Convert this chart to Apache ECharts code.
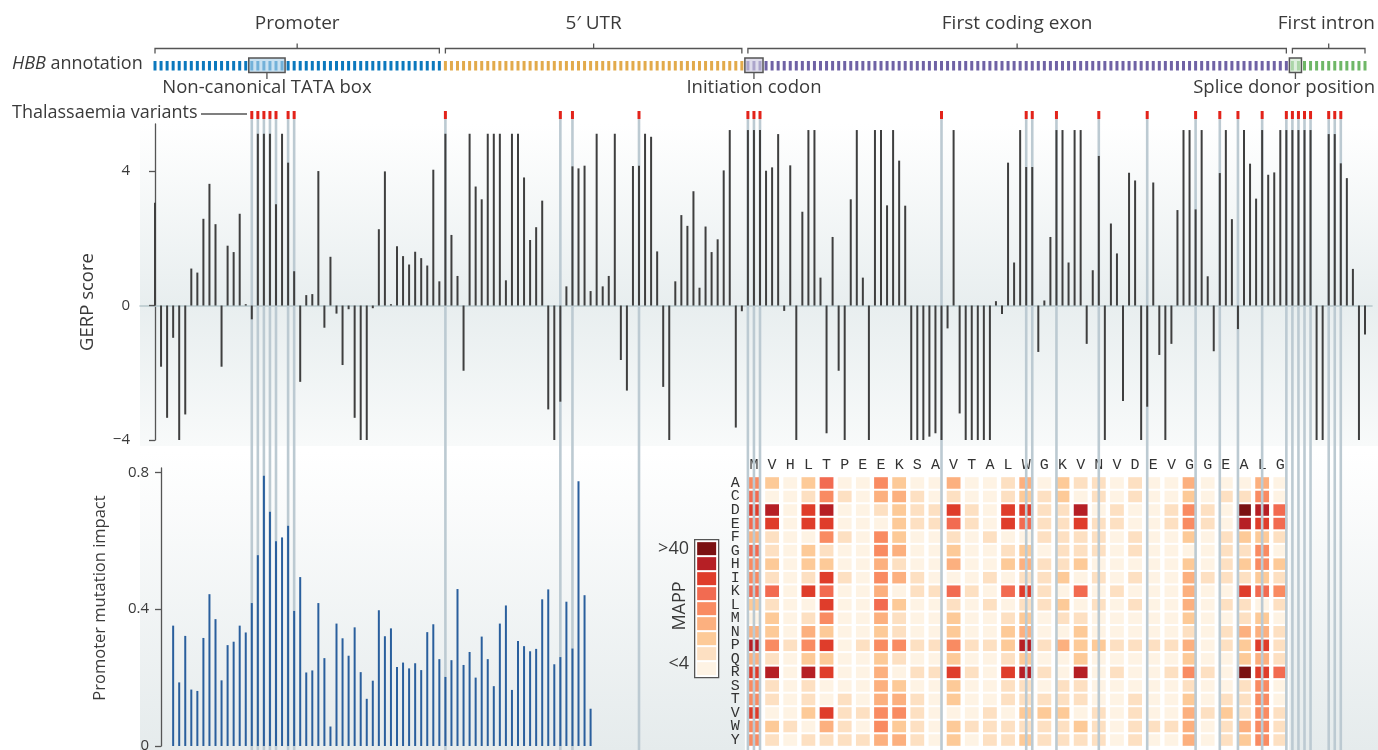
<!DOCTYPE html>
<html><head><meta charset="utf-8">
<script src="https://cdn.jsdelivr.net/npm/echarts@6/dist/echarts.min.js"></script>
<style>html,body{margin:0;padding:0;background:#fff}#c{width:1378px;height:750px}</style>
</head><body><div id="c"></div>
<script>
// ---------------- DATA ----------------
const regions = [
  {name: 'Promoter', start: 0, end: 47},
  {name: '5\u2032 UTR', start: 48, end: 97},
  {name: 'First coding exon', start: 98, end: 187},
  {name: 'First intron', start: 188, end: 200}
];
const features = [
  {name: 'Non-canonical TATA box', start: 16, end: 21},
  {name: 'Initiation codon', start: 98, end: 100},
  {name: 'Splice donor position', start: 188, end: 189}
];
const variantPositions = [16,17,18,19,20,22,23,48,67,69,80,98,99,100,130,144,145,149,156,164,172,176,179,183,187,188,189,190,191,194,195,196];
const gerpScores = [
  3.06,-1.82,-3.34,-0.96,-4.0,-3.24,1.10,0.98,2.58,3.62,
  2.42,-1.82,1.78,1.59,2.73,0.04,-0.41,5.11,5.11,5.11,
  3.01,5.11,4.25,1.02,-2.27,0.31,0.34,4.0,-0.66,1.45,
  -0.24,-1.77,-0.11,-3.34,-4.0,-4.0,-0.08,2.27,3.99,0.04,
  1.76,1.47,1.22,1.60,1.41,1.19,4.04,0.72,5.11,2.10,
  0.88,-1.94,5.11,3.54,3.16,5.11,5.11,5.11,0.75,5.11,
  5.11,3.81,1.95,2.33,3.12,-3.09,-4.0,-2.86,0.57,4.14,
  4.08,4.16,0.43,5.11,0.57,0.88,5.11,-1.62,-2.53,4.15,
  4.16,5.11,5.02,1.61,-2.42,-4.0,0.72,2.69,2.37,3.40,
  0.53,2.35,1.59,1.97,4.02,5.22,-3.63,-0.17,5.22,5.22,
  5.22,4.01,4.11,5.10,-0.16,4.17,-4.0,2.79,5.22,5.22,
  0.83,-3.80,2.04,-1.94,-4.0,3.16,5.22,0.83,-4.0,5.22,
  5.22,2.98,5.22,4.31,2.97,-4.0,-4.0,-4.0,-3.90,-3.80,
  -4.0,-0.68,5.22,-3.21,-4.0,-4.0,-4.0,-4.0,-4.0,0.13,
  -0.25,4.25,1.28,5.22,4.12,4.12,-1.38,0.15,2.04,5.22,
  5.22,1.28,5.22,5.22,-1.14,1.05,4.45,-4.0,2.44,1.55,
  -2.84,3.95,3.72,-4.0,-3.01,3.66,-1.47,-4.0,-1.14,2.84,
  5.22,5.22,2.86,5.22,0.87,-1.36,3.94,5.22,2.57,-0.70,
  5.22,4.22,3.18,5.22,3.89,3.96,5.22,5.22,5.22,5.22,
  5.22,5.22,-4.0,-4.0,5.10,5.10,4.23,3.79,1.09,-4.0,
  -0.86
];
const impactStart = 3;
const promoterImpact = [
  0.352,0.186,0.322,0.165,0.161,0.316,0.444,0.371,0.192,0.295,
  0.305,0.352,0.332,0.418,0.558,0.790,0.685,0.599,0.610,0.644,
  0.395,0.494,0.215,0.221,0.418,0.257,0.057,0.358,0.315,0.264,
  0.347,0.216,0.138,0.191,0.397,0.321,0.344,0.231,0.244,0.227,
  0.242,0.222,0.333,0.356,0.254,0.202,0.251,0.459,0.237,0.275,
  0.200,0.320,0.254,0.175,0.358,0.411,0.164,0.307,0.292,0.277,
  0.284,0.429,0.458,0.239,0.260,0.422,0.285,0.774,0.441,0.109
];
const aminoAcids = ['M','V','H','L','T','P','E','E','K','S','A','V','T','A','L','W','G','K','V','N','V','D','E','V','G','G','E','A','L','G'];
const residues = ['A','C','D','E','F','G','H','I','K','L','M','N','P','Q','R','S','T','V','W','Y'];
// MAPP level (1 = "<4" ... 9 = ">40"), one row per codon, in residue order
const mappLevels = [
  [5,6,7,6,4,6,5,5,6,3,1,4,8,4,7,5,5,7,5,5],
  [3,1,8,7,2,2,3,2,6,2,3,3,5,2,8,2,2,1,3,2],
  [1,1,1,1,1,1,1,1,1,1,1,1,2,1,1,1,1,1,2,1],
  [3,2,7,7,1,3,3,2,7,1,2,4,5,3,8,2,2,3,1,2],
  [6,5,8,7,5,2,3,7,6,7,5,3,7,3,7,1,1,7,4,2],
  [1,2,1,1,2,1,1,2,1,1,1,1,1,1,1,1,2,2,2,2],
  [1,1,1,1,1,1,1,1,1,1,1,1,2,1,1,1,1,2,1,2],
  [5,4,2,1,5,5,4,5,4,6,4,3,5,3,4,4,4,5,5,4],
  [3,4,3,3,3,4,2,4,1,3,2,2,5,2,1,3,4,5,3,4],
  [1,2,2,2,1,1,1,2,2,1,1,1,2,1,2,1,2,2,2,2],
  [1,1,2,2,1,1,1,1,2,1,1,1,2,1,2,1,1,1,1,1],
  [4,2,7,6,2,3,4,1,6,2,3,3,5,3,7,3,3,1,3,3],
  [1,1,2,2,1,1,1,1,2,1,1,1,2,1,2,1,1,1,2,1],
  [1,1,1,1,2,1,1,2,1,2,1,1,2,1,1,1,1,2,2,2],
  [2,2,7,7,1,2,3,1,6,1,2,3,3,2,7,2,2,1,2,2],
  [4,3,7,6,1,3,4,2,7,2,3,4,8,3,8,2,2,3,2,3],
  [1,2,2,2,2,1,2,2,2,2,1,1,2,1,2,1,2,3,2,2],
  [3,3,2,2,2,2,2,3,1,3,2,1,4,1,1,2,2,3,2,2],
  [2,1,8,7,2,2,3,1,6,1,2,3,3,3,8,2,2,1,3,2],
  [2,2,1,2,2,2,1,2,1,2,1,1,3,1,1,1,1,2,2,2],
  [1,1,2,2,1,1,1,1,2,1,1,1,2,1,2,1,1,1,1,1],
  [2,2,1,1,2,2,1,2,1,2,1,1,2,1,1,1,2,2,2,2],
  [1,1,1,1,1,1,1,1,1,1,1,1,2,1,1,1,1,1,2,1],
  [1,1,2,2,1,1,1,1,1,1,1,1,2,1,2,1,1,1,2,1],
  [4,3,5,5,3,1,3,4,4,4,3,2,4,3,5,2,3,4,4,4],
  [1,1,2,2,1,1,1,2,1,1,1,1,1,1,2,1,1,2,1,1],
  [1,2,1,1,2,2,2,2,1,2,1,2,2,1,1,1,2,3,2,2],
  [1,2,9,8,3,2,3,2,7,2,2,4,3,3,9,2,2,2,4,3],
  [4,5,8,7,3,5,5,3,6,1,3,4,7,4,7,5,5,5,5,5],
  [1,1,6,6,2,1,3,2,5,2,1,2,2,2,6,1,1,2,2,2]
];
const mappLevelValues = [1,2,3,4,5,6,7,8,9];
const mappEndLabels = ['>40', '<4'];
const gerpTicks = [-4, 0, 4];
const impactTicks = [0, 0.4, 0.8];

// ---------------- STYLE / LAYOUT ----------------
const W = 1378, H = 750;
const X0 = 155, DX = 6.05;          // pixel of position 0, pixels per nucleotide
const REGION_COLORS = ['#0b78bd', '#e2aa4b', '#6f62a5', '#6fb767'];
const MAPP_COLORS = ['#fef3e4','#fde0c2','#fdca98','#fcb07f','#f98b62','#f26b51','#df3d2b','#b61f25','#7b1112'];
const FONT = '"Open Sans", "Noto Sans", sans-serif';
const MONO = '"Liberation Mono", "DejaVu Sans Mono", monospace';
const TXT = '#3a3a3a';
const AX = '#555';
const SECTION_FS = 19, FEATURE_FS = 18.5, SIDE_FS = 18;

const measurer = document.createElement('canvas').getContext('2d');
function textWidth(t, size) { measurer.font = size + 'px ' + FONT; return measurer.measureText(t).width; }
function xRange(left, width) { return {min: (left - X0) / DX, max: (left + width - X0) / DX}; }
function regionIndexOf(p) { return regions.findIndex(r => p >= r.start && p <= r.end); }

const gridOverlay = {left: 0, top: 0, width: W, height: H};
const gridGerp = {left: 140, top: 124, width: 1232, height: 316};
const gridImpact = {left: 161, top: 468, width: 1211, height: 278};
const codonStart = regions[2].start;
const gridHeat = {left: X0 + (codonStart - 0.5) * DX, top: 476.2, width: aminoAcids.length * 3 * DX, height: residues.length * 13.53};

const heatData = [];
mappLevels.forEach((col, j) => col.forEach((lv, k) => heatData.push([j, k, lv])));

const fmtSigned = v => (v < 0 ? '\u2212' + Math.abs(v) : String(v));

const option = {
  animation: false,
  grid: [gridOverlay, gridGerp, gridImpact, gridHeat].map(g => Object.assign({outerBoundsMode: 'none', containLabel: false}, g)),
  xAxis: [
    Object.assign({type: 'value', gridIndex: 0, show: false}, xRange(gridOverlay.left, gridOverlay.width)),
    Object.assign({type: 'value', gridIndex: 1, axisLine: {show: true, onZero: true, lineStyle: {color: '#b7c7cc', width: 1.6}},
      axisTick: {show: false}, axisLabel: {show: false}, splitLine: {show: false}}, xRange(gridGerp.left, gridGerp.width)),
    Object.assign({type: 'value', gridIndex: 2, show: false}, xRange(gridImpact.left, gridImpact.width)),
    {type: 'category', gridIndex: 3, data: aminoAcids, position: 'top', axisLine: {show: false}, axisTick: {show: false},
      axisLabel: {interval: 0, fontFamily: MONO, fontSize: 15, color: '#333', margin: 4}, splitLine: {show: false}}
  ],
  yAxis: [
    {type: 'value', gridIndex: 0, min: 0, max: H, inverse: true, show: false},
    {type: 'value', gridIndex: 1, min: -4, max: 5.4,
      axisLine: {show: true, lineStyle: {color: AX, width: 1.3}},
      axisTick: {show: true, length: 6, customValues: gerpTicks, lineStyle: {color: AX, width: 1.3}},
      axisLabel: {customValues: gerpTicks, formatter: fmtSigned, fontFamily: FONT, fontSize: 15, color: TXT, margin: 10},
      splitLine: {show: false},
      name: 'GERP score', nameLocation: 'middle', nameGap: 43, nameRotate: 90,
      nameTextStyle: {fontFamily: FONT, fontSize: 18.5, color: TXT, padding: [0, 40, 0, 0]}},
    {type: 'value', gridIndex: 2, min: 0, max: 0.813,
      axisLine: {show: true, lineStyle: {color: AX, width: 1.3}},
      axisTick: {show: true, length: 6, customValues: impactTicks, lineStyle: {color: AX, width: 1.3}},
      axisLabel: {customValues: impactTicks, formatter: v => String(v), fontFamily: FONT, fontSize: 15, color: TXT, margin: 12},
      splitLine: {show: false},
      name: 'Promoter mutation impact', nameLocation: 'middle', nameGap: 52, nameRotate: 90,
      nameTextStyle: {fontFamily: FONT, fontSize: 16.5, color: TXT, padding: [0, 0, 0, 18]}},
    {type: 'category', gridIndex: 3, data: residues, inverse: true, axisLine: {show: false}, axisTick: {show: false},
      axisLabel: {interval: 0, fontFamily: MONO, fontSize: 15, color: '#333', margin: 5}, splitLine: {show: false}}
  ],
  visualMap: {
    type: 'piecewise', seriesIndex: 5, dimension: 2,
    pieces: mappLevelValues.map((v, i) => ({value: v, color: MAPP_COLORS[i]})),
    orient: 'vertical', left: 694, top: 539, itemWidth: 19, itemHeight: 13, itemGap: 2, itemSymbol: 'rect',
    showLabel: false, selectedMode: false, hoverLink: false, padding: 2.5,
    borderColor: AX, borderWidth: 1.3, backgroundColor: '#fff'
  },
  graphic: [
    {type: 'rect', z: -10, shape: {x: 140, y: 124, width: W - 140, height: 322},
      style: {fill: new echarts.graphic.LinearGradient(0, 0, 0, 1, [
        {offset: 0, color: '#ffffff'}, {offset: 0.56, color: '#e8eeef'}, {offset: 1, color: '#f8fafa'}])}},
    {type: 'rect', z: -10, shape: {x: 140, y: 452, width: W - 140, height: H - 452},
      style: {fill: new echarts.graphic.LinearGradient(0, 0, 0, 1, [
        {offset: 0, color: '#ffffff'}, {offset: 1, color: '#e5ebec'}])}},
    {type: 'rect', z: -9, shape: {x: gridHeat.left, y: 452, width: gridHeat.width, height: H - 452}, style: {fill: '#ffffff'}},
    {type: 'text', z: 10, x: 12, y: 64, style: {text: '{i|HBB} annotation', fill: TXT, font: SIDE_FS + 'px ' + FONT,
      verticalAlign: 'middle', textVerticalAlign: 'middle', rich: {i: {fontStyle: 'italic', fontSize: SIDE_FS, fontFamily: FONT, fill: TXT}}}},
    {type: 'text', z: 10, x: 12, y: 113, style: {text: 'Thalassaemia variants', fill: TXT, font: SIDE_FS + 'px ' + FONT,
      verticalAlign: 'middle', textVerticalAlign: 'middle'}},
    {type: 'line', z: 10, shape: {x1: 201, y1: 114, x2: 247, y2: 114}, style: {stroke: AX, lineWidth: 1.3}},
    {type: 'text', z: 10, x: 680, y: 606, rotation: Math.PI / 2, style: {text: 'MAPP', fill: TXT, font: '18px ' + FONT,
      align: 'center', textAlign: 'center', verticalAlign: 'middle', textVerticalAlign: 'middle'}},
    {type: 'text', z: 10, x: 689, y: 549, style: {text: mappEndLabels[0], fill: TXT, font: '18px ' + FONT,
      align: 'right', textAlign: 'right', verticalAlign: 'middle', textVerticalAlign: 'middle'}},
    {type: 'text', z: 10, x: 689, y: 664, style: {text: mappEndLabels[1], fill: TXT, font: '18px ' + FONT,
      align: 'right', textAlign: 'right', verticalAlign: 'middle', textVerticalAlign: 'middle'}}
  ],
  series: [
    // 0: region brackets, labels, annotation dashes
    {type: 'custom', xAxisIndex: 0, yAxisIndex: 0, z: 5, silent: true,
      data: regions.map(r => [r.start, r.end]),
      renderItem(params, api) {
        const ri = params.dataIndex, r = regions[ri];
        const xa = api.coord([r.start, 0])[0], xb = api.coord([r.end, 0])[0], xm = (xa + xb) / 2;
        const yb = 48.5;
        const tw = textWidth(r.name, SECTION_FS);
        const lx = Math.min(xm, W - 3 - tw / 2);
        const ch = [
          {type: 'polyline', shape: {points: [[xa, yb + 5], [xa, yb], [xb, yb], [xb, yb + 5]]}, style: {stroke: AX, lineWidth: 1.3, fill: null}},
          {type: 'line', shape: {x1: xm, y1: yb, x2: xm, y2: yb - 5}, style: {stroke: AX, lineWidth: 1.3}},
          {type: 'text', style: {text: r.name, x: lx, y: 24, fill: TXT, fontSize: SECTION_FS, fontFamily: FONT,
            align: 'center', textAlign: 'center', verticalAlign: 'middle', textVerticalAlign: 'middle'}}
        ];
        for (let p = r.start; p <= r.end; p++) {
          const x = api.coord([p, 0])[0];
          ch.push({type: 'rect', shape: {x: x - 1.5, y: 61, width: 3, height: 9.5}, style: {fill: REGION_COLORS[ri]}});
        }
        return {type: 'group', children: ch};
      }},
    // 1: feature boxes
    {type: 'custom', xAxisIndex: 0, yAxisIndex: 0, z: 6, silent: true,
      data: features.map(f => [f.start, f.end]),
      renderItem(params, api) {
        const f = features[params.dataIndex];
        const xa = api.coord([f.start - 0.5, 0])[0], xb = api.coord([f.end + 0.5, 0])[0], cx = (xa + xb) / 2;
        const col = REGION_COLORS[regionIndexOf(f.start)];
        const tw = textWidth(f.name, FEATURE_FS);
        const lx = Math.min(Math.max(cx, tw / 2 + 4), W - 3 - tw / 2);
        const box = {x: xa, y: 58, width: xb - xa, height: 14.5};
        return {type: 'group', children: [
          {type: 'rect', shape: box, style: {fill: 'rgba(255,255,255,0.55)'}},
          {type: 'rect', shape: box, style: {fill: col, opacity: 0.22}},
          {type: 'rect', shape: box, style: {fill: 'transparent', stroke: AX, lineWidth: 1.5}},
          {type: 'line', shape: {x1: cx, y1: 72.5, x2: cx, y2: 79}, style: {stroke: AX, lineWidth: 1.3}},
          {type: 'text', style: {text: f.name, x: lx, y: 88, fill: TXT, fontSize: FEATURE_FS, fontFamily: FONT,
            align: 'center', textAlign: 'center', verticalAlign: 'middle', textVerticalAlign: 'middle'}}
        ]};
      }},
    // 2: thalassaemia variants
    {type: 'custom', xAxisIndex: 0, yAxisIndex: 0, z: 3, silent: true,
      data: variantPositions.map(p => [p]),
      renderItem(params, api) {
        const x = api.coord([api.value(0), 0])[0];
        return {type: 'group', children: [
          {type: 'rect', shape: {x: x - 1.3, y: 119, width: 2.6, height: H - 119}, style: {fill: '#bccad2'}},
          {type: 'rect', shape: {x: x - 1.5, y: 111, width: 3, height: 8}, style: {fill: '#e2231a'}}
        ]};
      }},
    // 3: GERP
    {type: 'bar', xAxisIndex: 1, yAxisIndex: 1, z: 4, silent: true, barWidth: 2,
      itemStyle: {color: '#3f3f3f'}, data: gerpScores.map((v, i) => [i, v])},
    // 4: promoter impact
    {type: 'bar', xAxisIndex: 2, yAxisIndex: 2, z: 4, silent: true, barWidth: 2,
      itemStyle: {color: '#2a5f9d'}, data: promoterImpact.map((v, k) => [impactStart + k, v])},
    // 5: MAPP heatmap
    {type: 'custom', xAxisIndex: 3, yAxisIndex: 3, z: 1, silent: true,
      data: heatData, encode: {x: 0, y: 1},
      renderItem(params, api) {
        const c = api.coord([api.value(0), api.value(1)]);
        const s = api.size([1, 1]);
        const w = s[0] * 0.76, h = s[1] - 2;
        return {type: 'rect', shape: {x: c[0] - w / 2, y: c[1] - h / 2, width: w, height: h}, style: {fill: api.visual('color')}};
      }}
  ]
};
const chart = echarts.init(document.getElementById('c'), null, {renderer: 'canvas'});
chart.setOption(option);
</script></body></html>
